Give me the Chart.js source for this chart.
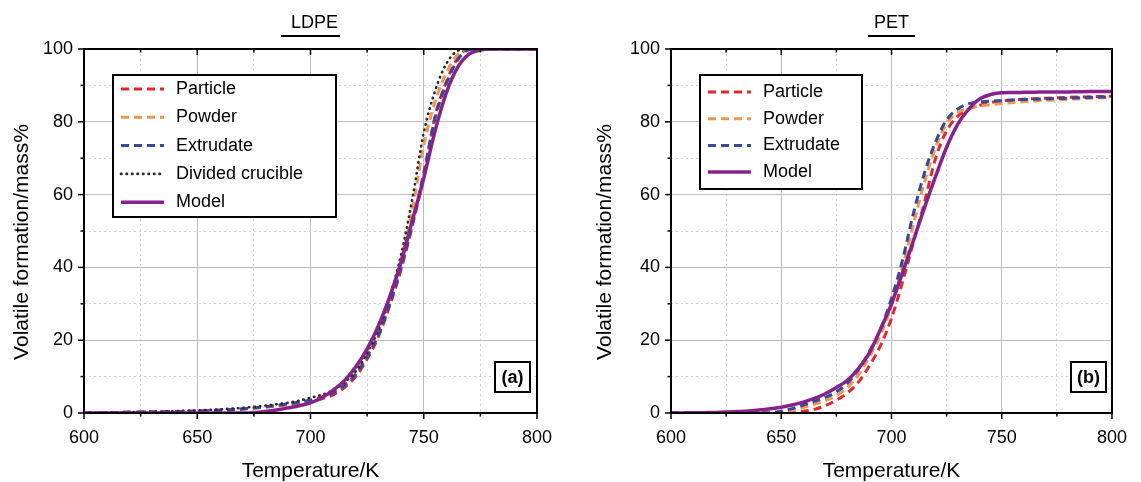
<!DOCTYPE html>
<html>
<head>
<meta charset="utf-8">
<script src="https://cdn.jsdelivr.net/npm/chart.js@4.4.0/dist/chart.umd.min.js"></script>
<style>
  html, body { margin: 0; padding: 0; background: #fff; }
  #wrap { position: relative; width: 1141px; height: 482px; }
  .panel { position: absolute; top: 0; height: 482px; }
  #left { left: 0; width: 570px; }
  #right { left: 570px; width: 571px; }
</style>
</head>
<body>
<div id="wrap">
  <div class="panel" id="left"><canvas id="ldpeChart"></canvas></div>
  <div class="panel" id="right"><canvas id="petChart"></canvas></div>
</div>
<script>
// temperature grid (K), 5 K steps
const temps = [600, 605, 610, 615, 620, 625, 630, 635, 640, 645, 650, 655, 660, 665, 670, 675, 680, 685, 690, 695,
  700, 705, 710, 715, 720, 725, 730, 735, 740, 745, 750, 755, 760, 765, 770, 775, 780, 785, 790, 795, 800];

// LDPE volatile formation, mass%
const ldpeParticle = [0.05, 0.08, 0.1, 0.15, 0.2, 0.25, 0.3, 0.35, 0.4, 0.45, 0.5, 0.6, 0.75, 0.9, 1.1, 1.35, 1.6, 1.95, 2.3, 2.7,
  3.2, 3.9, 5.0, 7.0, 10.0, 14.8, 21, 29.5, 39.5, 51.5, 65, 81.5, 91, 97.5, 100, 100, 100, 100, 100, 100, 100];
const ldpePowder = [0.05, 0.08, 0.1, 0.15, 0.2, 0.25, 0.3, 0.35, 0.4, 0.45, 0.55, 0.65, 0.8, 0.95, 1.15, 1.4, 1.7, 2.05, 2.45, 2.95,
  3.6, 4.5, 5.9, 8.2, 11.3, 16.3, 22.5, 31.5, 42, 56, 73.5, 85.5, 93.5, 98.5, 100, 100, 100, 100, 100, 100, 100];
const ldpeExtrudate = [0.05, 0.08, 0.1, 0.15, 0.2, 0.25, 0.3, 0.35, 0.4, 0.45, 0.5, 0.6, 0.75, 0.9, 1.1, 1.4, 1.7, 2.05, 2.5, 3.0,
  3.5, 4.3, 5.6, 7.6, 10.6, 15.5, 21.5, 30, 40, 52, 66, 81, 90.5, 97, 99.8, 100, 100, 100, 100, 100, 100];
const ldpeDivided = [0.1, 0.13, 0.16, 0.2, 0.25, 0.3, 0.35, 0.42, 0.5, 0.6, 0.7, 0.85, 1.0, 1.2, 1.4, 1.7, 2.0, 2.4, 2.8, 3.4,
  4.2, 5.0, 6.3, 8.4, 11.5, 16.5, 23, 32, 43.5, 59, 77, 88.5, 96, 99.5, 100, 100, 100, 100, 100, 100, 100];
const ldpeModel = [0, 0, 0, 0, 0, 0, 0, 0, 0, 0, 0, 0, 0, 0, 0, 0.1, 0.4, 0.8, 1.4, 2.0,
  2.8, 4.2, 6.3, 8.9, 12.7, 17.6, 24, 32, 41.5, 53, 64.5, 77.5, 88, 95, 98.6, 99.7, 100, 100, 100, 100, 100];

// PET volatile formation, mass%
const petParticle = [0, 0, 0, 0, 0, 0, 0, 0, 0, 0, 0, 0, 0.5, 1.0, 2.0, 3.5, 5.5, 8.5, 13, 18.5,
  26, 36, 47, 58, 70, 77.5, 81.5, 83.5, 84.5, 85.3, 85.8, 86.0, 86.2, 86.35, 86.5, 86.6, 86.7, 86.8, 86.9, 86.95, 87.0];
const petPowder = [0, 0, 0, 0, 0, 0, 0, 0, 0, 0, 0.2, 0.7, 1.5, 2.4, 3.4, 4.8, 7.0, 10.5, 15.5, 21.5,
  29.5, 40, 52, 63.5, 73, 79.5, 82.5, 83.8, 84.3, 84.7, 85.0, 85.3, 85.5, 85.7, 85.9, 86.0, 86.2, 86.3, 86.5, 86.6, 86.8];
const petExtrudate = [0, 0, 0, 0, 0, 0, 0, 0, 0, 0.1, 0.5, 1.2, 2.2, 3.2, 4.3, 5.8, 8.2, 12, 17, 23,
  31.5, 42, 55, 66, 74.5, 80.5, 83.5, 85, 85.5, 85.7, 85.8, 86.0, 86.1, 86.2, 86.3, 86.4, 86.5, 86.6, 86.7, 86.8, 86.9];
const petModel = [0, 0.02, 0.05, 0.1, 0.15, 0.25, 0.4, 0.55, 0.8, 1.15, 1.6, 2.2, 3.0, 4.0, 5.3, 7.0, 9.0, 12.2, 16.5, 23,
  30, 38.5, 47.5, 56.5, 65, 73, 79.3, 83.5, 86.3, 87.5, 88.0, 88.05, 88.1, 88.15, 88.2, 88.2, 88.2, 88.25, 88.3, 88.3, 88.3];

const xTitle = "Temperature/K";
const yTitle = "Volatile formation/mass%";
const FONT = '"Liberation Sans", Arial, Helvetica, sans-serif';

Chart.defaults.font.family = FONT;
Chart.defaults.color = "#000";

const toPoints = values => temps.map((t, i) => ({ x: t, y: values[i] }));

function series(label, values, color, kind, order) {
  const ds = {
    label,
    data: toPoints(values),
    borderColor: color,
    borderWidth: 3,
    borderDash: [8, 5],
    pointRadius: 0,
    fill: false,
    order
  };
  if (kind === "dot") {
    ds.borderWidth = 2.6;
    ds.borderDash = [0.5, 5];
    ds.borderCapStyle = "round";
  } else if (kind === "solid") {
    ds.borderWidth = 3.5;
    ds.borderDash = [];
  }
  return ds;
}

// frame, ticks, titles, legend and panel tag
const panelDecor = {
  id: "panelDecor",
  afterDraw(chart, args, o) {
    const ctx = chart.ctx;
    const a = chart.chartArea;
    const xs = chart.scales.x, ys = chart.scales.y;
    ctx.save();
    ctx.strokeStyle = "#000";
    ctx.fillStyle = "#000";

    ctx.lineWidth = 2;
    ctx.strokeRect(a.left, a.top, a.right - a.left, a.bottom - a.top);

    ctx.lineWidth = 1.5;
    xs.ticks.forEach(t => {
      const px = xs.getPixelForValue(t.value);
      const len = t.value % 50 === 0 ? 6 : 3.5;
      ctx.beginPath();
      ctx.moveTo(px, a.bottom); ctx.lineTo(px, a.bottom + len);
      ctx.moveTo(px, a.top); ctx.lineTo(px, a.top + len);
      ctx.stroke();
    });
    ys.ticks.forEach(t => {
      const py = ys.getPixelForValue(t.value);
      const len = t.value % 20 === 0 ? 6 : 3.5;
      ctx.beginPath();
      ctx.moveTo(a.left, py); ctx.lineTo(a.left - len, py);
      ctx.stroke();
    });

    // panel title with underline
    const cx = (a.left + a.right) / 2;
    ctx.font = "18px " + FONT;
    ctx.textAlign = "center";
    ctx.textBaseline = "middle";
    ctx.fillText(o.title, cx + o.titleShift, 23);
    const tw = ctx.measureText(o.title).width;
    ctx.lineWidth = 2;
    ctx.beginPath();
    ctx.moveTo(cx - tw / 2 - 6, 36); ctx.lineTo(cx + tw / 2 + 6, 36);
    ctx.stroke();

    // axis titles
    ctx.font = "21px " + FONT;
    ctx.fillText(xTitle, cx, 471);
    ctx.save();
    ctx.translate(o.yTitleX, 242);
    ctx.rotate(-Math.PI / 2);
    ctx.fillText(yTitle, 0, 0);
    ctx.restore();

    // legend
    const L = o.legend;
    ctx.fillStyle = "#fff";
    ctx.fillRect(L.x, L.y, L.w, L.h);
    ctx.lineWidth = 2;
    ctx.strokeRect(L.x, L.y, L.w, L.h);
    chart.data.datasets.forEach((ds, i) => {
      const y = L.y + L.first + i * L.step;
      ctx.save();
      ctx.strokeStyle = ds.borderColor;
      ctx.lineWidth = ds.borderWidth;
      ctx.setLineDash(ds.borderDash || []);
      ctx.lineCap = ds.borderCapStyle || "butt";
      ctx.beginPath();
      ctx.moveTo(L.x + 8, y); ctx.lineTo(L.x + 51, y);
      ctx.stroke();
      ctx.restore();
      ctx.fillStyle = "#000";
      ctx.font = "18px " + FONT;
      ctx.textAlign = "left";
      ctx.fillText(ds.label, L.x + 63, y);
    });

    // (a) / (b) tag
    const bw = 35, bh = 30;
    const bx = a.right - o.tagRight - bw, by = a.bottom - 21 - bh;
    ctx.fillStyle = "#fff";
    ctx.fillRect(bx, by, bw, bh);
    ctx.strokeRect(bx, by, bw, bh);
    ctx.fillStyle = "#000";
    ctx.font = "bold 18px " + FONT;
    ctx.textAlign = "center";
    ctx.fillText(o.tag, bx + bw / 2, by + bh / 2 + 1);
    ctx.restore();
  }
};

const gridColor = major => ctx => (ctx.tick && ctx.tick.value % major !== 0) ? "#d2d2d2" : "#bdbdbd";
const gridDash = major => ctx => (ctx.tick && ctx.tick.value % major !== 0) ? [2, 3] : [];

function makeChart(canvasId, datasets, deco) {
  return new Chart(document.getElementById(canvasId), {
    type: "line",
    data: { datasets },
    options: {
      responsive: true,
      maintainAspectRatio: false,
      animation: false,
      layout: { padding: { top: 49, right: deco.padRight, bottom: 0, left: 0 } },
      elements: { line: { cubicInterpolationMode: "monotone" }, point: { radius: 0 } },
      plugins: {
        legend: { display: false },
        title: { display: false },
        tooltip: { enabled: false },
        panelDecor: deco
      },
      scales: {
        x: {
          type: "linear",
          min: 600,
          max: 800,
          afterFit: s => { s.height = 69; },
          ticks: {
            stepSize: 25,
            autoSkip: false,
            maxRotation: 0,
            padding: 14,
            font: { size: 18 },
            callback: v => (v % 50 === 0 ? v : "")
          },
          grid: { drawTicks: false, lineWidth: 1, color: gridColor(50) },
          border: { display: false, dash: gridDash(50) }
        },
        y: {
          min: 0,
          max: 100,
          afterFit: s => { s.width = deco.yAxisWidth; },
          ticks: {
            stepSize: 10,
            autoSkip: false,
            padding: 11,
            font: { size: 18 },
            callback: v => (v % 20 === 0 ? v : "")
          },
          grid: { drawTicks: false, lineWidth: 1, color: gridColor(20) },
          border: { display: false, dash: gridDash(20) }
        }
      }
    },
    plugins: [panelDecor]
  });
}

const RED = "#e5262c", ORANGE = "#f2954d", BLUE = "#35499c", BLACK = "#2a2a2a", PURPLE = "#88228b";

makeChart("ldpeChart", [
  series("Particle", ldpeParticle, RED, "dash", 4),
  series("Powder", ldpePowder, ORANGE, "dash", 3),
  series("Extrudate", ldpeExtrudate, BLUE, "dash", 2),
  series("Divided crucible", ldpeDivided, BLACK, "dot", 1),
  series("Model", ldpeModel, PURPLE, "solid", 0)
], {
  title: "LDPE", titleShift: 4, tag: "(a)", tagRight: 7,
  yAxisWidth: 84, padRight: 33, yTitleX: 22,
  legend: { x: 113, y: 75, w: 223, h: 142, first: 14, step: 28.3 }
});

makeChart("petChart", [
  series("Particle", petParticle, RED, "dash", 3),
  series("Powder", petPowder, ORANGE, "dash", 2),
  series("Extrudate", petExtrudate, BLUE, "dash", 1),
  series("Model", petModel, PURPLE, "solid", 0)
], {
  title: "PET", titleShift: 0, tag: "(b)", tagRight: 6,
  yAxisWidth: 101, padRight: 17, yTitleX: 35,
  legend: { x: 130, y: 75, w: 162, h: 114, first: 17, step: 26.7 }
});
</script>
</body>
</html>
